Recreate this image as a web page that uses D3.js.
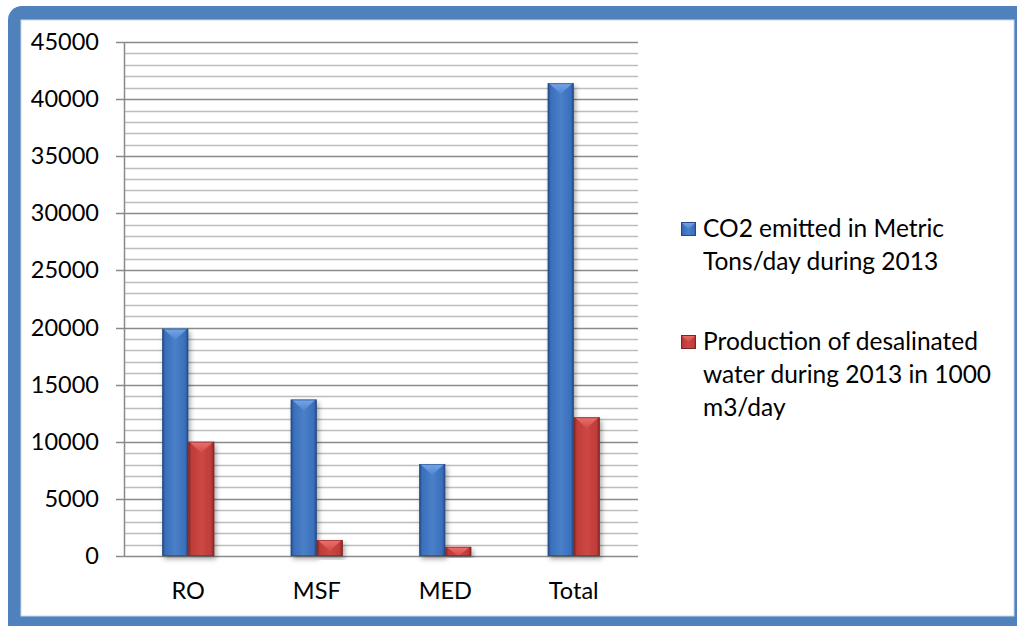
<!DOCTYPE html>
<html><head><meta charset="utf-8">
<script src="https://cdn.jsdelivr.net/npm/d3@7"></script>
<style>html,body{margin:0;padding:0;background:#fff;}svg{display:block;}</style>
</head><body>
<script>
const categories = ["RO", "MSF", "MED", "Total"];
const co2Values = [19900, 13700, 8050, 41400];
const waterValues = [10000, 1400, 800, 12150];
const seriesNames = ["CO2 emitted in Metric Tons/day during 2013", "Production of desalinated water during 2013 in 1000 m3/day"];
const legendLines = [["CO2 emitted in Metric", "Tons/day during 2013"], ["Production of desalinated", "water during 2013 in 1000", "m3/day"]];
const yTicks = [0, 5000, 10000, 15000, 20000, 25000, 30000, 35000, 40000, 45000];

(function() {
const W = 1017, H = 626;
const font = "Lato, 'Open Sans', sans-serif";
const svg = d3.select("body").append("svg").attr("width", W).attr("height", H);
const defs = svg.append("defs");

// frame
svg.append("rect").attr("x", 8).attr("y", 6).attr("width", 1030).attr("height", 640)
  .attr("rx", 14).attr("fill", "#4F81BD");
svg.append("rect").attr("x", 21).attr("y", 20).attr("width", 993).attr("height", 596)
  .attr("fill", "#fff").attr("stroke", "#c9d7ea").attr("stroke-width", 1);

const pLeft = 124, pRight = 638, pTop = 42, pBottom = 556;
const y = d3.scaleLinear().domain([0, 45000]).range([pBottom, pTop]);
const x0 = d3.scaleBand().domain(categories).range([pLeft, pRight]).padding(0);
const x1 = d3.scaleBand().domain([0, 1]).range([0, x0.bandwidth()]).paddingOuter(1.47).paddingInner(0);

// gridlines
const minor = d3.range(0, 45001, 1000).filter(v => v % 5000 !== 0);
svg.append("g").selectAll("line").data(minor).join("line")
  .attr("x1", pLeft).attr("x2", pRight).attr("y1", d => Math.round(y(d)) + 0.5).attr("y2", d => Math.round(y(d)) + 0.5)
  .attr("stroke", "#bdbdbd").attr("stroke-width", 1.5);
svg.append("g").selectAll("line").data(yTicks).join("line")
  .attr("x1", pLeft - 8).attr("x2", pRight).attr("y1", d => Math.round(y(d)) + 0.5).attr("y2", d => Math.round(y(d)) + 0.5)
  .attr("stroke", "#8a8a8a").attr("stroke-width", 1.5);
svg.append("line").attr("x1", pLeft + 0.5).attr("x2", pLeft + 0.5).attr("y1", pTop).attr("y2", pBottom + 1)
  .attr("stroke", "#8a8a8a").attr("stroke-width", 1.5);

// y labels via axis
const yAxis = svg.append("g").attr("transform", `translate(${pLeft},0)`)
  .call(d3.axisLeft(y).tickValues(yTicks).tickSize(0).tickPadding(25).tickFormat(d3.format("d")));
yAxis.select(".domain").remove();
yAxis.selectAll("text").attr("font-family", font).attr("font-size", 23.5).attr("fill", "#000");

// x labels
const xAxis = svg.append("g").attr("transform", `translate(0,${pBottom})`)
  .call(d3.axisBottom(x0).tickSize(0).tickPadding(26));
xAxis.select(".domain").remove();
xAxis.selectAll("text").attr("font-family", font).attr("font-size", 23.5).attr("fill", "#000");

// gradients
const pal = [
  {edge: "#234a85", mid: "#3a6fbb", light: "#4a80c8", tri: "#76a6e6", triEnd: "#4f86d0"},
  {edge: "#7f2523", mid: "#bf3c39", light: "#cc4744", tri: "#ec716d", triEnd: "#d24b47"}
];
pal.forEach((p, i) => {
  const g = defs.append("linearGradient").attr("id", "bg" + i).attr("x1", 0).attr("x2", 1).attr("y1", 0).attr("y2", 0);
  g.append("stop").attr("offset", 0).attr("stop-color", p.edge);
  g.append("stop").attr("offset", 0.12).attr("stop-color", p.mid);
  g.append("stop").attr("offset", 0.5).attr("stop-color", p.light);
  g.append("stop").attr("offset", 0.88).attr("stop-color", p.mid);
  g.append("stop").attr("offset", 1).attr("stop-color", p.edge);
  const t = defs.append("linearGradient").attr("id", "tg" + i).attr("x1", 0).attr("x2", 0).attr("y1", 0).attr("y2", 1);
  t.append("stop").attr("offset", 0).attr("stop-color", p.tri);
  t.append("stop").attr("offset", 1).attr("stop-color", p.triEnd);
});
const sh = defs.append("filter").attr("id", "shadow").attr("x", "-30%").attr("y", "-10%").attr("width", "160%").attr("height", "130%");
sh.append("feDropShadow").attr("dx", 2).attr("dy", 3).attr("stdDeviation", 2.5).attr("flood-color", "#000").attr("flood-opacity", 0.35);

const data = [];
categories.forEach((c, i) => {
  data.push({cat: c, s: 0, v: co2Values[i]});
  data.push({cat: c, s: 1, v: waterValues[i]});
});

const bars = svg.append("g").selectAll("g").data(data).join("g");
bars.each(function(d) {
  const g = d3.select(this);
  const bx = x0(d.cat) + x1(d.s), bw = x1.bandwidth();
  const by = y(d.v), bh = y(0) - y(d.v);
  g.append("rect").attr("x", bx).attr("y", by).attr("width", bw).attr("height", bh)
    .attr("fill", `url(#bg${d.s})`).attr("filter", "url(#shadow)");
  const th = Math.min(11, bh);
  g.append("polygon")
    .attr("points", [[bx + 1, by], [bx + bw - 1, by], [bx + bw / 2, by + th]].map(p => p.join(",")).join(" "))
    .attr("fill", `url(#tg${d.s})`);
  g.append("rect").attr("x", bx + 0.5).attr("y", by + 0.5).attr("width", bw - 1).attr("height", bh - 1)
    .attr("fill", "none").attr("stroke", pal[d.s].edge).attr("stroke-opacity", 0.6);
});

// legend
const lg = svg.append("g");
const itemY = [222, 335];
legendLines.forEach((lines, i) => {
  const yy = itemY[i];
  lg.append("rect").attr("x", 681).attr("y", yy).attr("width", 15).attr("height", 14).attr("fill", `url(#bg${i})`);
  lg.append("polygon").attr("points", `681,${yy} 696,${yy} 688.5,${yy + 7}`).attr("fill", `url(#tg${i})`);
  lg.append("rect").attr("x", 681.5).attr("y", yy + 0.5).attr("width", 14).attr("height", 13).attr("fill", "none").attr("stroke", pal[i].edge);
  lines.forEach((t, j) => {
    lg.append("text").attr("x", 703).attr("y", yy + 15 + j * 33).text(t)
      .attr("font-family", font).attr("font-size", 24.5).attr("fill", "#000");
  });
});
})();
</script>
</body></html>
